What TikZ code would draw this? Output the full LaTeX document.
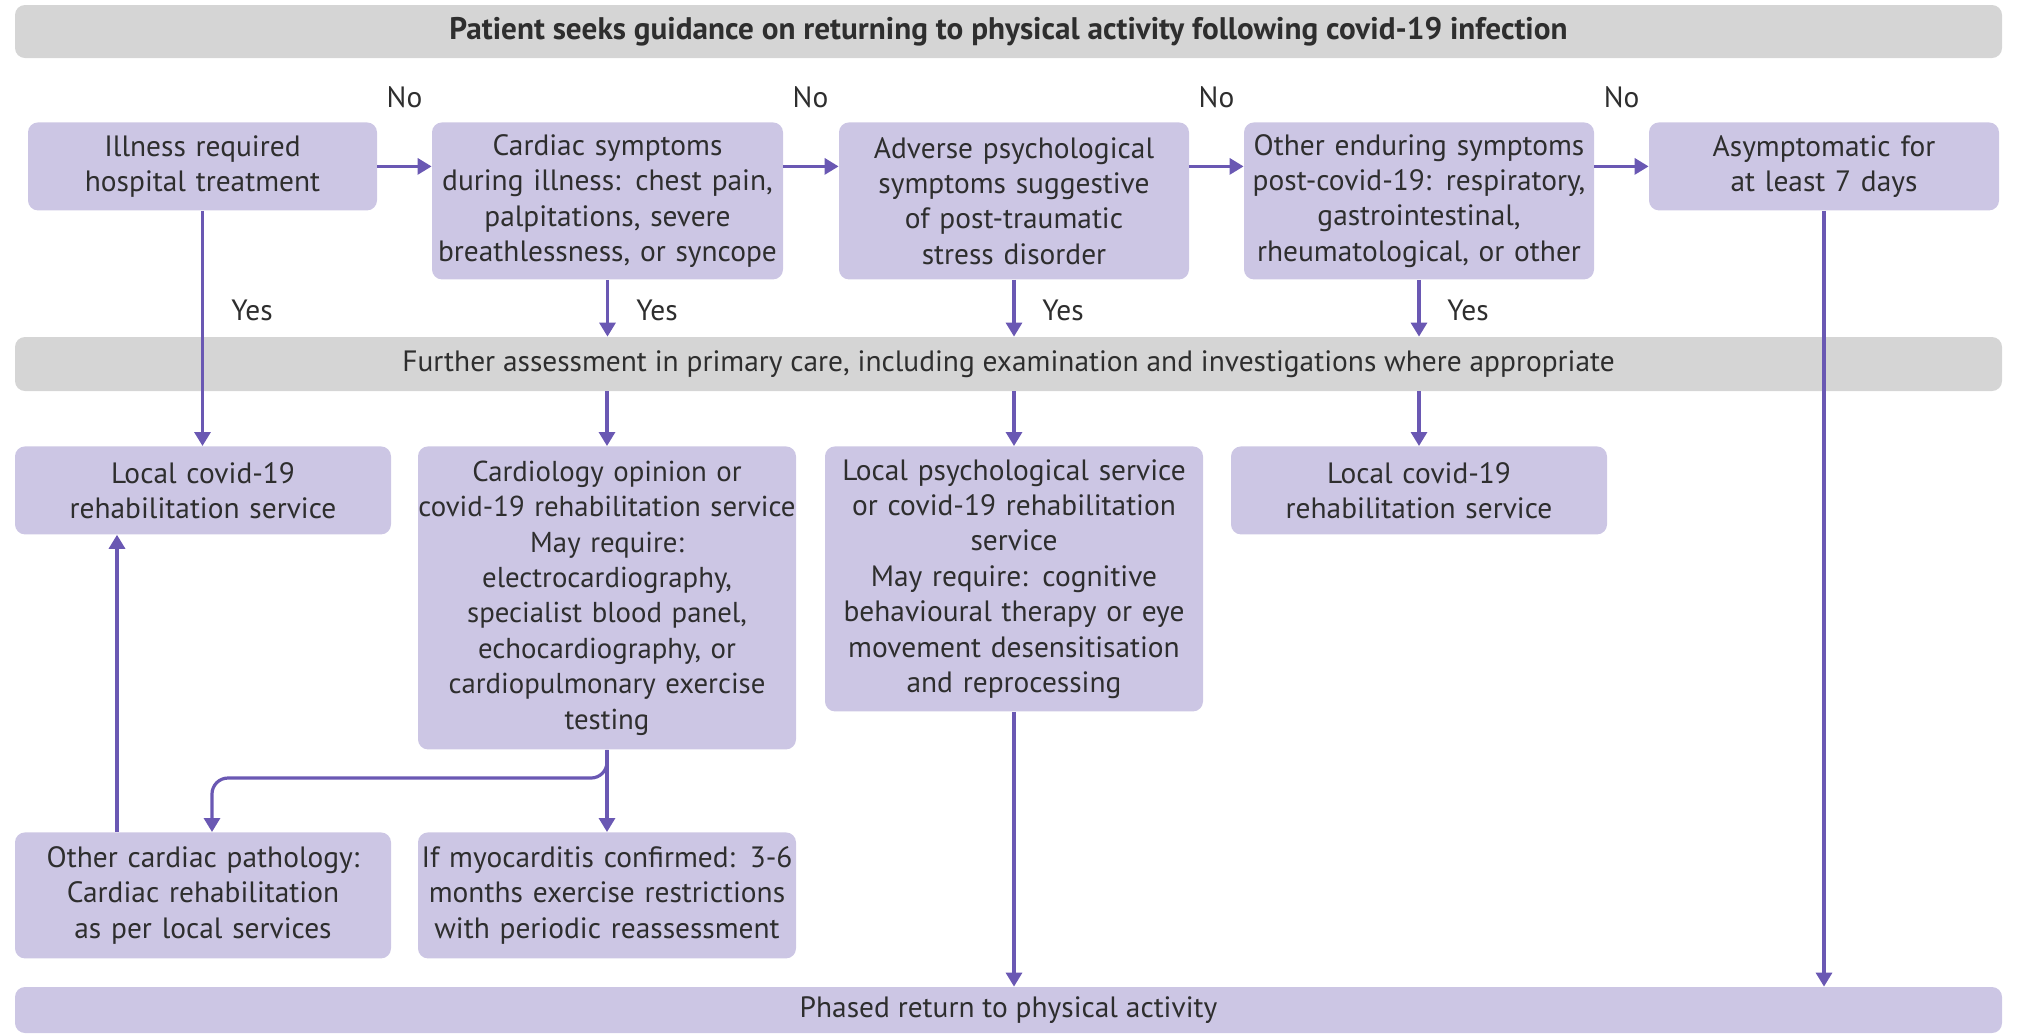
\documentclass[tikz,border=0pt]{standalone}
\usepackage{fontspec}
\setmainfont{PT Sans}
\usepackage{xcolor}
\usepackage{tikz}
\usetikzlibrary{positioning,arrows.meta,calc}
\definecolor{BoxPurple}{HTML}{CCC6E4}
\definecolor{ArrowPurple}{HTML}{6A58B3}
\definecolor{BarGray}{HTML}{D5D5D5}
\definecolor{TextGray}{HTML}{2E2E2E}
\newcommand{\boxfont}{\fontsize{14.7}{17.7}\selectfont}

\tikzset{
  pbox/.style={fill=BoxPurple, rounded corners=5pt, align=center, text=TextGray,
               inner sep=0pt, anchor=north, font=\boxfont},
  gbar/.style={fill=BarGray, rounded corners=5pt, text=TextGray, inner sep=0pt,
               minimum width=993.5pt, font=\boxfont},
  lbl/.style={text=TextGray, font=\boxfont},
  arr/.style={ArrowPurple, line width=1.6pt, -{Triangle[width=8pt,length=7pt]}},
}

\begin{document}
\begin{tikzpicture}[x=0.5pt, y=-0.5pt]
  \useasboundingbox (0,0) rectangle (2017,1035);

  % bars
  \node[gbar, minimum height=26.5pt, font=\fontsize{15.6}{18}\selectfont\bfseries] (seek) at (1008.5,31.5)
    {Patient seeks guidance on returning to physical activity following covid-19 infection};
  \node[gbar, minimum height=27pt] (assess) at (1008.5,364)
    {Further assessment in primary care, including examination and investigations where appropriate};
  \node[gbar, fill=BoxPurple, minimum height=23pt] (phased) at (1008.5,1010)
    {Phased return to physical activity};

  % questions
  \node[pbox, text width=174.5pt, minimum height=44pt] (hosp) at (202.5,122)
    {Illness required\\hospital treatment};
  \node[pbox, text width=175.5pt, minimum height=78.5pt] (cardiac) at (607.5,122)
    {Cardiac symptoms\\during illness: chest pain,\\palpitations, severe\\breathlessness, or syncope};
  \node[pbox, text width=175pt, minimum height=78.5pt] (psych) at (1014,122)
    {Adverse psychological\\symptoms suggestive\\of post-traumatic\\stress disorder};
  \node[pbox, text width=175pt, minimum height=78.5pt] (other) at (1419,122)
    {Other enduring symptoms\\post-covid-19: respiratory,\\gastrointestinal,\\rheumatological, or other};
  \node[pbox, text width=175pt, minimum height=44pt] (asym) at (1824,122)
    {Asymptomatic for\\at least 7 days};

  % services
  \node[pbox, text width=188pt, minimum height=44pt] (localA) at (203,446)
    {Local covid-19\\rehabilitation service};
  \node[pbox, text width=189pt, minimum height=151.5pt, font=\fontsize{14.4}{17.7}\selectfont] (cardio) at (607,446)
    {Cardiology opinion or\\covid-19 rehabilitation service\\May require:\\electrocardiography,\\specialist blood panel,\\echocardiography, or\\cardiopulmonary exercise\\testing};
  \node[pbox, text width=189pt, minimum height=132.5pt] (psychsvc) at (1014,446)
    {Local psychological service\\or covid-19 rehabilitation\\service\\May require: cognitive\\behavioural therapy or eye\\movement desensitisation\\and reprocessing};
  \node[pbox, text width=188pt, minimum height=44pt] (localB) at (1419,446)
    {Local covid-19\\rehabilitation service};

  \node[pbox, text width=188pt, minimum height=63pt] (cardrehab) at (203,832)
    {Other cardiac pathology:\\Cardiac rehabilitation\\as per local services};
  \node[pbox, text width=189pt, minimum height=63pt] (myo) at (607,832)
    {If myocarditis confirmed: 3-6\\months exercise restrictions\\with periodic reassessment};

  % labels
  \foreach \x [count=\i] in {404.5,810.5,1216.5,1621.5}
    \node[lbl] (no\i) at (\x,97) {No};
  \foreach \x [count=\i] in {252,657,1063,1468}
    \node[lbl] (yes\i) at (\x,310) {Yes};

  % no arrows
  \draw[arr] (hosp.east) -- (hosp.east -| cardiac.west);
  \draw[arr] (hosp.east -| cardiac.east) -- (hosp.east -| psych.west);
  \draw[arr] (hosp.east -| psych.east) -- (hosp.east -| other.west);
  \draw[arr] (hosp.east -| other.east) -- (hosp.east -| asym.west);

  % yes arrows
  \draw[arr] (hosp.south) -- (hosp.south |- localA.north);
  \draw[arr] (cardiac.south) -- (cardiac.south |- assess.north);
  \draw[arr] (psych.south) -- (psych.south |- assess.north);
  \draw[arr] (other.south) -- (other.south |- assess.north);
  \draw[arr] (assess.south -| cardio.north) -- (cardio.north);
  \draw[arr] (assess.south -| psychsvc.north) -- (psychsvc.north);
  \draw[arr] (assess.south -| localB.north) -- (localB.north);

  % cardiology split
  \coordinate (split) at (212,778);
  \draw[arr, rounded corners=8pt] (cardio.south) |- (split) -- (split |- cardrehab.north);
  \draw[arr] (cardio.south) -- (myo.north);
  \draw[arr] ([xshift=-43pt]cardrehab.north) -- ([xshift=-43pt]localA.south);

  % to phased return
  \draw[arr] (psychsvc.south) -- (psychsvc.south |- phased.north);
  \draw[arr] (asym.south) -- (asym.south |- phased.north);
\end{tikzpicture}
\end{document}
